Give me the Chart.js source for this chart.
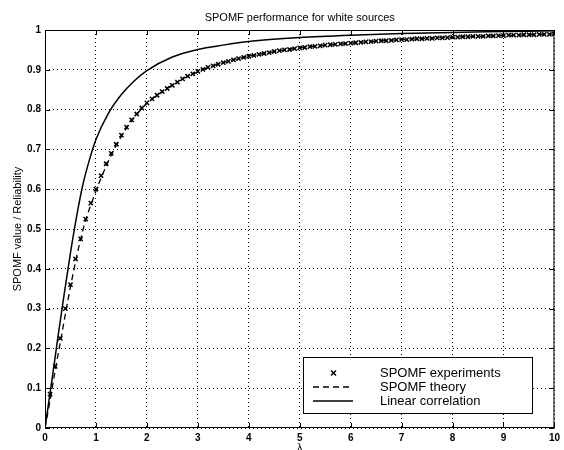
<!DOCTYPE html>
<html>
<head>
<meta charset="utf-8">
<script src="https://cdn.jsdelivr.net/npm/chart.js@4.4.0/dist/chart.umd.min.js"></script>
<style>
    html, body { margin: 0; padding: 0; background: #fff; }
    #grafico { display: block; }
</style>
</head>
<body>
<canvas id="grafico" width="564" height="450"></canvas>
<script>
var titulo = "SPOMF performance for white sources";
var tituloEixoX = "\u03bb";
var tituloEixoY = "SPOMF value / Reliability";

var ticksX = [0, 1, 2, 3, 4, 5, 6, 7, 8, 9, 10];
var ticksY = [0, 0.1, 0.2, 0.3, 0.4, 0.5, 0.6, 0.7, 0.8, 0.9, 1];

// SPOMF experiments (marcadores x)
var expX = [0.1, 0.2, 0.3, 0.4, 0.5, 0.6, 0.7, 0.8, 0.9, 1.0,
    1.1, 1.2, 1.3, 1.4, 1.5, 1.6, 1.7, 1.8, 1.9, 2.0,
    2.1, 2.2, 2.3, 2.4, 2.5, 2.6, 2.7, 2.8, 2.9, 3.0,
    3.1, 3.2, 3.3, 3.4, 3.5, 3.6, 3.7, 3.8, 3.9, 4.0,
    4.1, 4.2, 4.3, 4.4, 4.5, 4.6, 4.7, 4.8, 4.9, 5.0,
    5.1, 5.2, 5.3, 5.4, 5.5, 5.6, 5.7, 5.8, 5.9, 6.0,
    6.1, 6.2, 6.3, 6.4, 6.5, 6.6, 6.7, 6.8, 6.9, 7.0,
    7.1, 7.2, 7.3, 7.4, 7.5, 7.6, 7.7, 7.8, 7.9, 8.0,
    8.1, 8.2, 8.3, 8.4, 8.5, 8.6, 8.7, 8.8, 8.9, 9.0,
    9.1, 9.2, 9.3, 9.4, 9.5, 9.6, 9.7, 9.8, 9.9, 10.0];
var expY = [0.085, 0.155, 0.225, 0.300, 0.360, 0.425, 0.475, 0.525, 0.565, 0.600,
    0.634, 0.664, 0.690, 0.713, 0.736, 0.756, 0.774, 0.789, 0.804, 0.817,
    0.827, 0.836, 0.845, 0.853, 0.861, 0.869, 0.877, 0.884, 0.890, 0.896,
    0.901, 0.906, 0.910, 0.914, 0.918, 0.921, 0.925, 0.928, 0.931, 0.934,
    0.936, 0.939, 0.941, 0.943, 0.946, 0.948, 0.950, 0.951, 0.953, 0.955,
    0.956, 0.958, 0.959, 0.960, 0.962, 0.963, 0.964, 0.965, 0.966, 0.967,
    0.968, 0.969, 0.970, 0.971, 0.972, 0.973, 0.973, 0.974, 0.975, 0.976,
    0.976, 0.977, 0.978, 0.978, 0.979, 0.979, 0.980, 0.980, 0.981, 0.982,
    0.982, 0.983, 0.983, 0.984, 0.984, 0.984, 0.985, 0.985, 0.986, 0.986,
    0.987, 0.987, 0.987, 0.988, 0.988, 0.988, 0.989, 0.989, 0.989, 0.990];

// SPOMF theory (tracejada)
var teoX = [0, 0.1, 0.2, 0.3, 0.5, 0.75, 1, 1.25, 1.5, 1.75, 2, 2.5, 3, 3.5, 4, 5, 6, 7, 8, 9, 10];
var teoY = [0, 0.07, 0.145, 0.215, 0.355, 0.5, 0.595, 0.672, 0.733, 0.78, 0.815, 0.862, 0.895, 0.918, 0.934, 0.955, 0.967, 0.976, 0.982, 0.986, 0.99];

// Linear correlation (continua)
var linX = [0, 0.125, 0.25, 0.375, 0.5, 0.625, 0.75, 0.875, 1, 1.25, 1.5, 1.75, 2, 2.5, 3, 3.5, 4, 5, 6, 7, 8, 9, 10];
var linY = [0, 0.11, 0.225, 0.335, 0.44, 0.535, 0.615, 0.675, 0.725, 0.792, 0.838, 0.872, 0.898, 0.932, 0.951, 0.962, 0.971, 0.981, 0.987, 0.991, 0.994, 0.996, 0.998];

const pares = function (xs, ys) {
    return xs.map((x, i) => ({ x: x, y: ys[i] }));
}

const fonte = "'Liberation Sans', Arial, Helvetica, sans-serif";

const moldura = {
    id: 'moldura',
    afterDraw(chart) {
        const ctx = chart.ctx;
        const a = chart.chartArea;
        const sx = chart.scales.x;
        const sy = chart.scales.y;

        ctx.save();
        ctx.strokeStyle = '#000';
        ctx.lineWidth = 1;
        ctx.setLineDash([]);
        ctx.strokeRect(a.left + 0.5, a.top + 0.5, a.right - a.left - 1, a.bottom - a.top - 1);

        // ticks para dentro nos quatro lados
        ctx.beginPath();
        ticksX.forEach(v => {
            const px = Math.round(sx.getPixelForValue(v)) + 0.5;
            ctx.moveTo(px, a.bottom); ctx.lineTo(px, a.bottom - 5);
            ctx.moveTo(px, a.top); ctx.lineTo(px, a.top + 5);
        });
        ticksY.forEach(v => {
            const py = Math.round(sy.getPixelForValue(v)) + 0.5;
            ctx.moveTo(a.left, py); ctx.lineTo(a.left + 5, py);
            ctx.moveTo(a.right, py); ctx.lineTo(a.right - 5, py);
        });
        ctx.stroke();

        // titulos
        ctx.fillStyle = '#000';
        ctx.textAlign = 'center';
        ctx.textBaseline = 'middle';
        ctx.font = '11px ' + fonte;
        ctx.fillText(titulo, (a.left + a.right) / 2, 18);
        ctx.fillText(tituloEixoX, (a.left + a.right) / 2, 448);
        ctx.save();
        ctx.translate(18, (a.top + a.bottom) / 2);
        ctx.rotate(-Math.PI / 2);
        ctx.fillText(tituloEixoY, 0, 0);
        ctx.restore();

        // legenda
        const lx = 303, ly = 357, lw = 229, lh = 56;
        ctx.fillStyle = '#fff';
        ctx.fillRect(lx, ly, lw, lh);
        ctx.strokeRect(lx + 0.5, ly + 0.5, lw, lh);
        ctx.font = '13px ' + fonte;
        ctx.textAlign = 'left';
        const linhas = [373, 387, 401];
        chart.data.datasets.forEach((ds, i) => {
            const y = linhas[i];
            ctx.strokeStyle = '#000';
            ctx.lineWidth = ds.borderWidth;
            ctx.beginPath();
            if (ds.showLine === false) {
                ctx.moveTo(331, y - 2.5); ctx.lineTo(336, y + 2.5);
                ctx.moveTo(336, y - 2.5); ctx.lineTo(331, y + 2.5);
            } else {
                ctx.setLineDash(ds.borderDash || []);
                ctx.moveTo(313, y); ctx.lineTo(353, y);
            }
            ctx.stroke();
            ctx.setLineDash([]);
            ctx.fillStyle = '#000';
            ctx.fillText(ds.label, 380, y);
        });
        ctx.restore();
    }
};

const ctx = document.getElementById('grafico').getContext('2d');
var grafico = new Chart(ctx, {
    type: 'scatter',
    data: {
        datasets: [{
            label: 'SPOMF experiments',
            data: pares(expX, expY),
            showLine: false,
            pointStyle: 'crossRot',
            pointRadius: 3,
            borderColor: '#000',
            borderWidth: 1.5,
            order: 0
        }, {
            label: 'SPOMF theory',
            data: pares(teoX, teoY),
            showLine: true,
            borderColor: '#000',
            borderWidth: 1.3,
            borderDash: [6, 4],
            pointRadius: 0,
            cubicInterpolationMode: 'monotone',
            order: 1
        }, {
            label: 'Linear correlation',
            data: pares(linX, linY),
            showLine: true,
            borderColor: '#000',
            borderWidth: 1.5,
            pointRadius: 0,
            cubicInterpolationMode: 'monotone',
            order: 2
        }]
    },
    options: {
        responsive: false,
        animation: false,
        layout: { padding: { top: 30, right: 7, left: 0, bottom: 0 } },
        plugins: {
            legend: { display: false },
            title: { display: false },
            tooltip: { enabled: false }
        },
        scales: {
            x: {
                type: 'linear',
                min: 0,
                max: 10,
                afterFit: s => { s.height = 22; },
                afterBuildTicks: s => { s.ticks = ticksX.map(v => ({ value: v })); },
                ticks: {
                    color: '#000',
                    padding: 4,
                    font: { family: fonte, size: 10, weight: 'bold' }
                },
                grid: { color: '#000', lineWidth: 1, drawTicks: false },
                border: { display: false, dash: [1, 3] }
            },
            y: {
                type: 'linear',
                min: 0,
                max: 1,
                afterFit: s => { s.width = 45; },
                afterBuildTicks: s => { s.ticks = ticksY.map(v => ({ value: v })); },
                ticks: {
                    color: '#000',
                    padding: 4,
                    font: { family: fonte, size: 10, weight: 'bold' },
                    callback: v => String(v)
                },
                grid: { color: '#000', lineWidth: 1, drawTicks: false },
                border: { display: false, dash: [1, 3] }
            }
        }
    },
    plugins: [moldura]
});
</script>
</body>
</html>
